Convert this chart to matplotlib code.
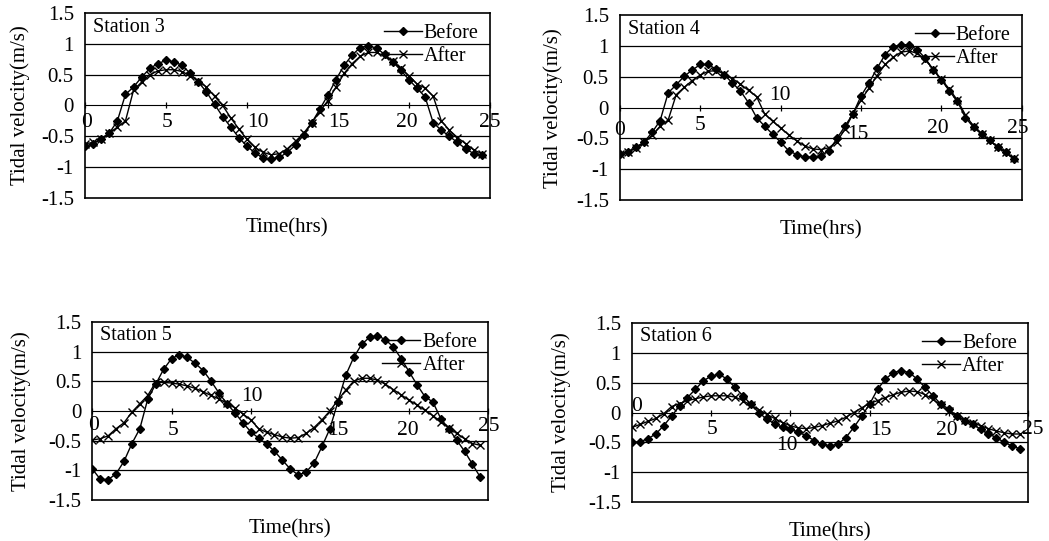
import numpy as np
import matplotlib
matplotlib.use('Agg')
import matplotlib.pyplot as plt

plt.rcParams['font.family'] = ['Liberation Serif', 'DejaVu Serif']
plt.rcParams['axes.unicode_minus'] = False

# time axis, half-hour records
hours = np.arange(0, 25, 0.5)

st3_before = [-0.66, -0.62, -0.55, -0.45, -0.25, 0.18, 0.30, 0.46, 0.60, 0.68,
              0.73, 0.71, 0.65, 0.52, 0.38, 0.22, 0.02, -0.18, -0.35, -0.52,
              -0.66, -0.77, -0.85, -0.87, -0.84, -0.76, -0.64, -0.48, -0.28, -0.06,
              0.17, 0.42, 0.65, 0.82, 0.94, 0.97, 0.93, 0.83, 0.71, 0.57,
              0.42, 0.28, 0.14, -0.28, -0.40, -0.50, -0.60, -0.70, -0.78, -0.80]
st3_after = [-0.62, -0.60, -0.55, -0.45, -0.35, -0.25, 0.25, 0.38, 0.50, 0.56,
             0.58, 0.58, 0.55, 0.48, 0.40, 0.30, 0.15, 0.00, -0.20, -0.38,
             -0.55, -0.68, -0.76, -0.80, -0.78, -0.70, -0.58, -0.45, -0.28, -0.10,
             0.08, 0.30, 0.52, 0.68, 0.80, 0.86, 0.86, 0.80, 0.72, 0.60,
             0.48, 0.35, 0.28, 0.15, -0.25, -0.40, -0.52, -0.62, -0.72, -0.78]

st4_before = [-0.75, -0.72, -0.64, -0.56, -0.40, -0.21, 0.24, 0.37, 0.51, 0.61,
              0.70, 0.70, 0.62, 0.53, 0.40, 0.27, 0.08, -0.16, -0.30, -0.43,
              -0.56, -0.70, -0.76, -0.80, -0.80, -0.78, -0.70, -0.50, -0.30, -0.10,
              0.19, 0.40, 0.64, 0.86, 0.99, 1.02, 1.02, 0.94, 0.80, 0.61,
              0.45, 0.27, 0.10, -0.16, -0.32, -0.43, -0.53, -0.64, -0.72, -0.84]
st4_after = [-0.75, -0.72, -0.66, -0.56, -0.45, -0.30, -0.20, 0.21, 0.33, 0.44,
             0.53, 0.59, 0.60, 0.55, 0.47, 0.38, 0.28, 0.18, -0.10, -0.22,
             -0.33, -0.44, -0.54, -0.62, -0.67, -0.68, -0.65, -0.55, -0.35, -0.10,
             0.12, 0.32, 0.52, 0.70, 0.82, 0.90, 0.92, 0.88, 0.78, 0.62,
             0.46, 0.30, 0.12, -0.12, -0.30, -0.42, -0.53, -0.64, -0.72, -0.82]

st5_before = [-0.98, -1.15, -1.16, -1.06, -0.85, -0.55, -0.30, 0.20, 0.45, 0.70,
              0.88, 0.95, 0.90, 0.80, 0.68, 0.50, 0.30, 0.12, -0.03, -0.20,
              -0.35, -0.46, -0.56, -0.68, -0.83, -0.98, -1.08, -1.03, -0.88, -0.60,
              -0.30, 0.15, 0.60, 0.90, 1.12, 1.24, 1.27, 1.20, 1.08, 0.88,
              0.66, 0.44, 0.24, 0.15, -0.13, -0.30, -0.49, -0.68, -0.90, -1.12]
st5_after = [-0.49, -0.47, -0.42, -0.30, -0.20, -0.02, 0.12, 0.26, 0.48, 0.48,
             0.47, 0.45, 0.42, 0.38, 0.32, 0.26, 0.20, 0.13, 0.05, -0.05,
             -0.15, -0.30, -0.36, -0.40, -0.44, -0.46, -0.45, -0.38, -0.28, -0.15,
             0.00, 0.18, 0.35, 0.50, 0.55, 0.55, 0.52, 0.45, 0.36, 0.27,
             0.18, 0.10, 0.01, -0.08, -0.18, -0.28, -0.38, -0.47, -0.55, -0.58]

st6_before = [-0.50, -0.49, -0.44, -0.36, -0.22, -0.06, 0.11, 0.25, 0.39, 0.53,
              0.61, 0.64, 0.56, 0.42, 0.28, 0.14, 0.00, -0.11, -0.19, -0.25,
              -0.28, -0.33, -0.39, -0.47, -0.53, -0.56, -0.53, -0.42, -0.25, -0.06,
              0.14, 0.39, 0.56, 0.67, 0.70, 0.67, 0.56, 0.42, 0.28, 0.14,
              0.06, -0.06, -0.14, -0.19, -0.28, -0.36, -0.42, -0.50, -0.56, -0.61]
st6_after = [-0.25, -0.20, -0.15, -0.10, -0.02, 0.10, 0.15, 0.20, 0.23, 0.26,
             0.28, 0.28, 0.28, 0.26, 0.20, 0.12, 0.05, -0.03, -0.10, -0.17,
             -0.22, -0.26, -0.27, -0.25, -0.22, -0.18, -0.14, -0.08, 0.00, 0.08,
             0.15, 0.20, 0.25, 0.30, 0.34, 0.36, 0.35, 0.30, 0.22, 0.12,
             0.02, -0.06, -0.12, -0.17, -0.22, -0.27, -0.31, -0.34, -0.36, -0.36]

stations = ['Station 3', 'Station 4', 'Station 5', 'Station 6']
before = [st3_before, st4_before, st5_before, st6_before]
after = [st3_after, st4_after, st5_after, st6_after]

y_ticks = [-1.5, -1, -0.5, 0, 0.5, 1, 1.5]
y_ticklabels = ['-1.5', '-1', '-0.5', '0', '0.5', '1', '1.5']
x_ticks = [0, 5, 10, 15, 20, 25]

# axes boxes [left, bottom, width, height] in figure fraction
boxes = [[0.081, 0.634, 0.386, 0.342],
         [0.591, 0.630, 0.383, 0.342],
         [0.088, 0.076, 0.3775, 0.329],
         [0.6025, 0.072, 0.3775, 0.331]]
ylab_x = [-0.136, -0.142, -0.155, -0.155]
# where the scanned x tick labels sit (x, y in data units)
xlab_pos = [
    [(0.1, -0.28), (5.05, -0.28), (10.7, -0.28), (15.7, -0.28), (19.9, -0.28), (25.0, -0.28)],
    [(0.0, -0.37), (5.0, -0.29), (9.95, 0.2), (14.8, -0.43), (19.8, -0.34), (24.75, -0.34)],
    [(0.1, -0.25), (5.1, -0.33), (10.1, 0.24), (15.5, -0.33), (19.9, -0.33), (25.0, -0.27)],
    [(0.3, 0.1), (5.05, -0.28), (9.8, -0.56), (15.7, -0.3), (19.9, -0.3), (25.3, -0.28)],
]

fig = plt.figure(figsize=(10.49, 5.41), dpi=100)

for i in range(4):
    ax = fig.add_axes(boxes[i])
    for y in [-1, -0.5, 0.5, 1]:
        ax.axhline(y, color='black', lw=0.9, zorder=1)
    ax.plot(hours, before[i], color='black', lw=1.0, marker='D', ms=3.8,
            label='Before', zorder=3)
    ax.plot(hours, after[i], color='black', lw=1.0, marker='x', ms=6, mew=1.0,
            label='After', zorder=3)
    ax.set_xlim(0, 25)
    ax.set_ylim(-1.5, 1.5)
    ax.set_yticks(y_ticks)
    ax.set_yticklabels(y_ticklabels)
    ax.tick_params(axis='y', length=0, pad=8, labelsize=15)
    ax.set_xticks([])
    for s in ax.spines.values():
        s.set_linewidth(1.2)
        s.set_color('black')

    # x axis crossing at zero, like the spreadsheet chart
    sec = ax.secondary_xaxis(0.5)
    sec.set_xticks(x_ticks)
    sec.set_xticklabels([])
    sec.tick_params(direction='inout', length=5, width=0.9)
    sec.spines['bottom'].set_linewidth(1.0)
    for (tx, ty), v in zip(xlab_pos[i], x_ticks):
        ax.text(tx, ty, str(v), ha='center', va='center', fontsize=15.5, clip_on=False)

    ax.text(0.02, 0.975, stations[i], transform=ax.transAxes, ha='left', va='top', fontsize=14.5)
    ax.legend(loc='upper right', frameon=False, fontsize=14.5, handlelength=1.9,
              handletextpad=0.1, labelspacing=0.2, borderaxespad=0.15)

    ax.set_ylabel('Tidal velocity(m/s)', fontsize=15)
    ax.yaxis.set_label_coords(ylab_x[i], 0.5)
    ax.set_xlabel('Time(hrs)', fontsize=15)
    ax.xaxis.set_label_coords(0.5, -0.11)

fig.savefig('out.png', dpi=100)
